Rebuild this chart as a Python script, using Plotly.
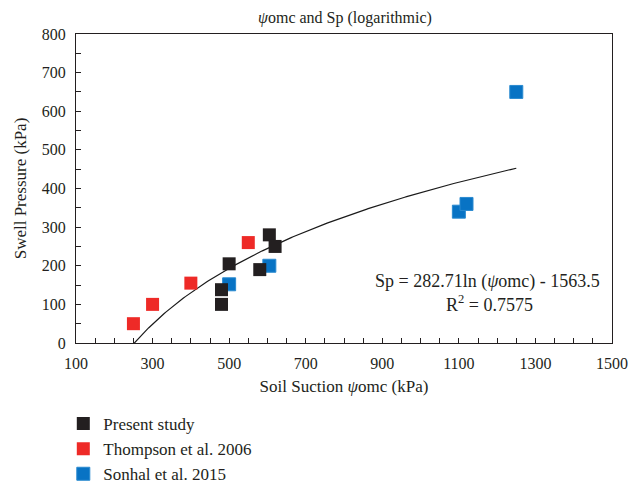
import numpy as np
import plotly.graph_objects as go

# Soil suction (kPa) and swell pressure (kPa) per data source
present_x = [480, 480, 500, 580, 605, 620]
present_y = [100, 138, 205, 190, 280, 250]

thompson_x = [250, 300, 400, 550]
thompson_y = [50, 100, 155, 260]

sonhal_x = [500, 605, 1100, 1120, 1250]
sonhal_y = [152, 200, 340, 360, 650]

# Logarithmic fit: Sp = a ln(psi) + b
fit_a = 282.71
fit_b = -1563.5
fit_r2 = 0.7575
fit_range = [250, 1250]

x_ticks = [100, 300, 500, 700, 900, 1100, 1300, 1500]
y_ticks = [0, 100, 200, 300, 400, 500, 600, 700, 800]

FONT = "Liberation Serif, Times New Roman, serif"
INK = "#231f20"

fig = go.Figure()

fit_x = np.linspace(fit_range[0], fit_range[1], 200)
fit_y = fit_a * np.log(fit_x) + fit_b
fig.add_trace(go.Scatter(x=fit_x, y=fit_y, mode="lines",
                         line=dict(color="#1a1a1a", width=1.2),
                         showlegend=False, hoverinfo="skip"))

fig.add_trace(go.Scatter(x=sonhal_x, y=sonhal_y, mode="markers", name="Sonhal et al. 2015",
                         marker=dict(symbol="square", size=13, color="#0873c4",
                                     line=dict(color="#2a8ad0", width=1))))
fig.add_trace(go.Scatter(x=thompson_x, y=thompson_y, mode="markers", name="Thompson et al. 2006",
                         marker=dict(symbol="square", size=13, color="#ee2a27",
                                     line=dict(color="#ee2a27", width=0))))
fig.add_trace(go.Scatter(x=present_x, y=present_y, mode="markers", name="Present study",
                         marker=dict(symbol="square", size=13, color=INK,
                                     line=dict(color=INK, width=0))))

fig.add_annotation(x=1176, y=158, xref="x", yref="y", showarrow=False,
                   text="Sp = 282.71ln (<i>ψ</i>omc) - 1563.5",
                   font=dict(family=FONT, size=18, color=INK))
fig.add_annotation(x=1180, y=101, xref="x", yref="y", showarrow=False,
                   text=f"R<sup>2</sup> = {fit_r2}",
                   font=dict(family=FONT, size=18, color=INK))

axis_common = dict(showgrid=False, zeroline=False, showline=True, linecolor=INK,
                   linewidth=1, mirror=True, ticks="inside", ticklen=5, tickcolor=INK,
                   automargin=False,
                   tickfont=dict(family=FONT, size=16, color=INK))

W, H = 633, 492
plot_left, plot_right, plot_top, plot_bottom = 76, 612, 34, 343

fig.update_xaxes(range=[100, 1500], tickvals=x_ticks,
                 domain=[plot_left / W, plot_right / W],
                 ticklabelstandoff=6,
                 minor=dict(dtick=50, tick0=100, ticks="inside", ticklen=5, tickcolor=INK),
                 title=dict(text="Soil Suction <i>ψ</i>omc (kPa)", standoff=8,
                            font=dict(family=FONT, size=17, color=INK)),
                 **axis_common)
fig.update_yaxes(range=[0, 800], tickvals=y_ticks,
                 domain=[1 - plot_bottom / H, 1 - plot_top / H],
                 ticklabelstandoff=6,
                 minor=dict(dtick=50, tick0=0, ticks="inside", ticklen=5, tickcolor=INK),
                 title=dict(text="Swell Pressure (kPa)", standoff=10,
                            font=dict(family=FONT, size=17, color=INK)),
                 **axis_common)

fig.update_layout(
    width=W, height=H,
    margin=dict(l=0, r=0, t=0, b=0),
    paper_bgcolor="white", plot_bgcolor="white",
    title=dict(text="<i>ψ</i>omc and Sp (logarithmic)", x=0.545, xanchor="center",
               y=0.965, yanchor="middle",
               font=dict(family=FONT, size=16, color=INK)),
    legend=dict(x=0.1, xanchor="left", y=0.0, yanchor="bottom", traceorder="reversed",
                font=dict(family=FONT, size=17, color=INK),
                bgcolor="rgba(0,0,0,0)"),
    showlegend=True,
)

fig.write_html("out.html")
